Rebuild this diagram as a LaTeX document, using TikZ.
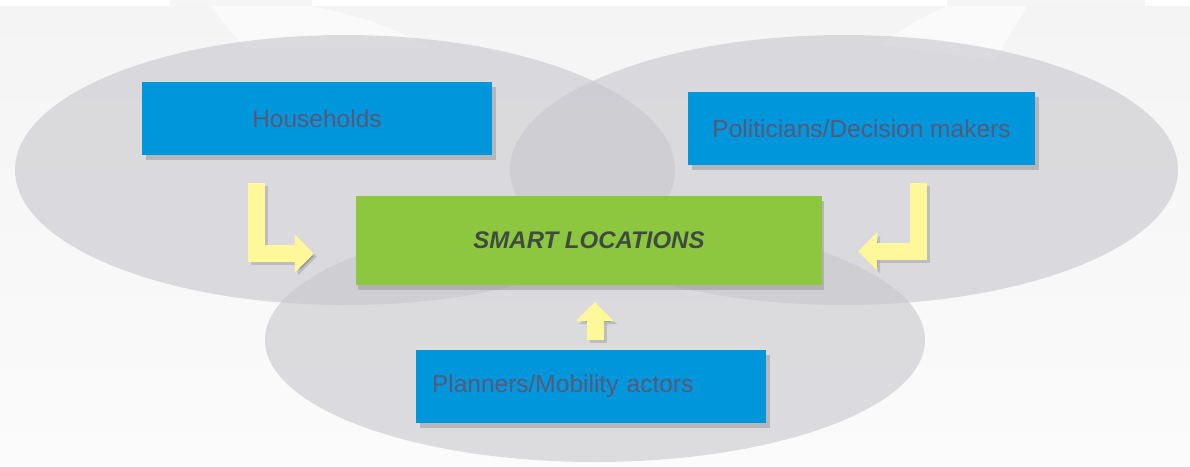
\documentclass[tikz,border=0pt]{standalone}
\usepackage{fontspec}
\setmainfont{Liberation Sans}
\usetikzlibrary{arrows.meta,calc}
\definecolor{bgc}{HTML}{F4F4F4}
\definecolor{bgl}{HTML}{FBFBFB}
\definecolor{ellc}{HTML}{C6C6CC}
\definecolor{boxblue}{HTML}{0096DB}
\definecolor{boxgreen}{HTML}{8DC63F}
\definecolor{txtc}{HTML}{535A7C}
\definecolor{smtxt}{HTML}{3F4B40}
\definecolor{arrc}{HTML}{FFF79A}
\definecolor{shc}{HTML}{9A9A9A}
\tikzset{
  ell/.style={fill=ellc,fill opacity=0.58,draw=none},
  actor/.style={fill=boxblue,draw=none,minimum width=350pt,minimum height=73pt,
    text=txtc,font=\fontsize{24.5}{28}\selectfont,inner sep=0pt},
  core/.style={fill=boxgreen,draw=none,minimum width=466pt,minimum height=89pt,
    text=smtxt,font=\fontsize{24}{28}\selectfont\bfseries\itshape,inner sep=0pt},
  boxshadow/.style={fill=shc,fill opacity=0.55,draw=none},
  blockarrow/.style={draw=arrc,line width=17pt,
    -{Triangle[width=37pt,length=19pt]}},
  arrowshadow/.style={draw=shc,draw opacity=0.45,line width=17pt,
    -{Triangle[width=37pt,length=19pt]}}
}
\begin{document}
\begin{tikzpicture}[x=1pt,y=-1pt]
\useasboundingbox (0,0) rectangle (1190,466);
% background
\shade[top color=bgc,bottom color=bgl] (0,0) rectangle (1190,466);
\fill[white] (0,0) rectangle (1190,6);
\fill[black!4] (170,0) rectangle (312,6);
\fill[black!4] (947,0) rectangle (1145,6);
\fill[white,opacity=0.55] (210,6) -- (312,6) .. controls (350,14) and (390,24) .. (430,48) -- (245,48) -- cycle;
\fill[white,opacity=0.55] (1027,6) -- (995,60) -- (880,45) .. controls (900,30) and (925,15) .. (947,6) -- cycle;
% ellipses
\fill[ell] (345,170) ellipse [x radius=330, y radius=135];
\fill[ell] (844,170) ellipse [x radius=334, y radius=135];
\fill[ell] (595,340) ellipse [x radius=330, y radius=122];
% box shadows
\fill[boxshadow] (146,87) rectangle (496,160);
\fill[boxshadow] (692,97) rectangle (1039,170);
\fill[boxshadow] (358,201) rectangle (824,290);
\fill[boxshadow] (420,355) rectangle (770,428);
% boxes
\node[actor] (hh) at (317,118.5) {Households};
\node[actor,minimum width=347pt] (pol) at (861.5,128.5) {Politicians/Decision makers};
\node[core] (sl) at (589,240.5) {SMART LOCATIONS};
\node[actor,text width=318pt,align=left,inner xsep=16pt] (pl) at (591,386.5) {Planners/Mobility actors};
% arrow anchor coordinates
\coordinate (a1s) at ($(hh.south west)+(115,28)$);
\coordinate (a1e) at ($(sl.west)+(-42,13)$);
\coordinate (a2s) at ($(pol.south west)+(231,18)$);
\coordinate (a2e) at ($(sl.east)+(36,11)$);
\coordinate (a3s) at ($(pl.north)+(4,-10)$);
\coordinate (a3e) at ($(sl.south)+(6,17)$);
% arrow shadows
\draw[arrowshadow] ($(a1s)+(3,3)$) |- ($(a1e)+(3,3)$);
\draw[arrowshadow] ($(a2s)+(3,3)$) |- ($(a2e)+(3,3)$);
\draw[arrowshadow] ($(a3s)+(3,3)$) -- ($(a3e)+(3,3)$);
% arrows
\draw[blockarrow] (a1s) |- (a1e);
\draw[blockarrow] (a2s) |- (a2e);
\draw[blockarrow] (a3s) -- (a3e);
\end{tikzpicture}
\end{document}
